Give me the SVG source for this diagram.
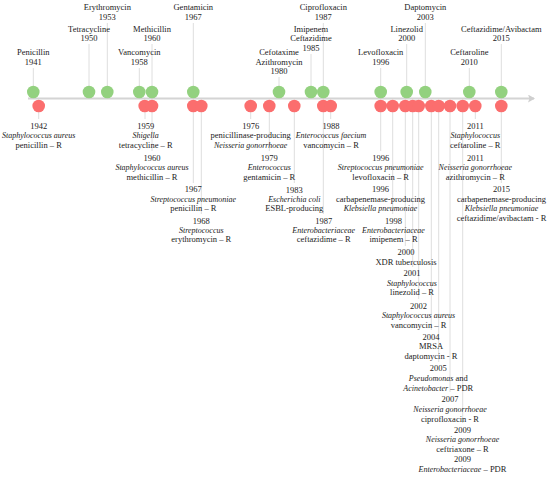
<svg xmlns="http://www.w3.org/2000/svg" width="550" height="477" viewBox="0 0 550 477">
<style>
.t{font-family:"Liberation Serif","Times New Roman",serif;font-size:8.5px;fill:#222;text-anchor:middle}
.i{font-style:italic;font-size:8px}
.ld{stroke:#dedede;stroke-width:1;fill:none}
.g{fill:#93d17f}
.r{fill:#fb6e6e}
</style>
<defs>
<marker id="ah" markerWidth="8" markerHeight="8" refX="6" refY="4" orient="auto" markerUnits="userSpaceOnUse">
<path d="M0,0 L7,4 L0,8 L1.5,4 Z" fill="#cfcfcf"/>
</marker>
</defs>
<rect width="550" height="477" fill="#fff"/>
<g id="connectors">
<line class="ld" x1="33.3" y1="68" x2="33.3" y2="86"/>
<line class="ld" x1="89" y1="44" x2="89" y2="86"/>
<line class="ld" x1="107.3" y1="23" x2="107.3" y2="86"/>
<line class="ld" x1="139.3" y1="68" x2="139.3" y2="86"/>
<line class="ld" x1="152" y1="44" x2="152" y2="86"/>
<line class="ld" x1="193.3" y1="23" x2="193.3" y2="86"/>
<line class="ld" x1="279" y1="77" x2="279" y2="86"/>
<line class="ld" x1="311" y1="54" x2="311" y2="86"/>
<line class="ld" x1="323.3" y1="23" x2="323.3" y2="86"/>
<line class="ld" x1="380.7" y1="68" x2="380.7" y2="86"/>
<line class="ld" x1="406.7" y1="44" x2="406.7" y2="86"/>
<line class="ld" x1="425.3" y1="23" x2="425.3" y2="86"/>
<line class="ld" x1="469.3" y1="68" x2="469.3" y2="86"/>
<line class="ld" x1="501.3" y1="44" x2="501.3" y2="86"/>
<line class="ld" x1="38.7" y1="112" x2="38.7" y2="119"/>
<line class="ld" x1="145" y1="112" x2="145" y2="119"/>
<line class="ld" x1="152" y1="112" x2="152" y2="151"/>
<line class="ld" x1="193.3" y1="112" x2="193.3" y2="183"/>
<line class="ld" x1="201.3" y1="112" x2="201.3" y2="214"/>
<line class="ld" x1="250.7" y1="112" x2="250.7" y2="119"/>
<line class="ld" x1="269.3" y1="112" x2="269.3" y2="151"/>
<line class="ld" x1="294.3" y1="112" x2="294.3" y2="183"/>
<line class="ld" x1="323.3" y1="112" x2="323.3" y2="214"/>
<line class="ld" x1="330.7" y1="112" x2="330.7" y2="119"/>
<line class="ld" x1="380.7" y1="112" x2="380.7" y2="151"/>
<line class="ld" x1="392.7" y1="112" x2="392.7" y2="214"/>
<line class="ld" x1="405.3" y1="112" x2="405.3" y2="246"/>
<line class="ld" x1="412.7" y1="112" x2="412.7" y2="267"/>
<line class="ld" x1="418.7" y1="112" x2="418.7" y2="299"/>
<line class="ld" x1="431.3" y1="112" x2="431.3" y2="330"/>
<line class="ld" x1="438.7" y1="112" x2="438.7" y2="362"/>
<line class="ld" x1="450" y1="112" x2="450" y2="392"/>
<line class="ld" x1="462.7" y1="112" x2="462.7" y2="423"/>
<line class="ld" x1="475.3" y1="112" x2="475.3" y2="119"/>
<line class="ld" x1="501.3" y1="112" x2="501.3" y2="183"/>
<line id="axis" x1="28" y1="98.5" x2="534" y2="98.5" stroke="#d4d4d4" stroke-width="2" marker-end="url(#ah)"/>
</g>
<g id="antibiotics">
<g id="n1941"><circle class="g" cx="33.3" cy="92" r="6.3"/><text class="t" y="55.3"><tspan x="33.3">Penicillin</tspan><tspan x="33.3" dy="9.4">1941</tspan></text></g>
<g id="n1950"><circle class="g" cx="89" cy="92" r="6.3"/><text class="t" y="32"><tspan x="89">Tetracycline</tspan><tspan x="89" dy="9.4">1950</tspan></text></g>
<g id="n1953"><circle class="g" cx="107.3" cy="92" r="6.3"/><text class="t" y="10.3"><tspan x="107.3">Erythromycin</tspan><tspan x="107.3" dy="9.4">1953</tspan></text></g>
<g id="n1958"><circle class="g" cx="139.3" cy="92" r="6.3"/><text class="t" y="55.3"><tspan x="139.3">Vancomycin</tspan><tspan x="139.3" dy="9.4">1958</tspan></text></g>
<g id="n1960"><circle class="g" cx="152" cy="92" r="6.3"/><text class="t" y="32"><tspan x="152">Methicillin</tspan><tspan x="152" dy="9.4">1960</tspan></text></g>
<g id="n1967"><circle class="g" cx="193.3" cy="92" r="6.3"/><text class="t" y="10.3"><tspan x="193.3">Gentamicin</tspan><tspan x="193.3" dy="9.4">1967</tspan></text></g>
<g id="n1980"><circle class="g" cx="279" cy="92" r="6.3"/><text class="t" y="55.3"><tspan x="279">Cefotaxime</tspan><tspan x="279" dy="9.4">Azithromycin</tspan><tspan x="279" dy="9.4">1980</tspan></text></g>
<g id="n1985"><circle class="g" cx="311" cy="92" r="6.3"/><text class="t" y="32"><tspan x="311">Imipenem</tspan><tspan x="311" dy="9.4">Ceftazidime</tspan><tspan x="311" dy="9.4">1985</tspan></text></g>
<g id="n1987"><circle class="g" cx="323.3" cy="92" r="6.3"/><text class="t" y="10.3"><tspan x="323.3">Ciprofloxacin</tspan><tspan x="323.3" dy="9.4">1987</tspan></text></g>
<g id="n1996"><circle class="g" cx="380.7" cy="92" r="6.3"/><text class="t" y="55.3"><tspan x="380.7">Levofloxacin</tspan><tspan x="380.7" dy="9.4">1996</tspan></text></g>
<g id="n2000"><circle class="g" cx="406.7" cy="92" r="6.3"/><text class="t" y="32"><tspan x="406.7">Linezolid</tspan><tspan x="406.7" dy="9.4">2000</tspan></text></g>
<g id="n2003"><circle class="g" cx="425.3" cy="92" r="6.3"/><text class="t" y="10.3"><tspan x="425.3">Daptomycin</tspan><tspan x="425.3" dy="9.4">2003</tspan></text></g>
<g id="n2010"><circle class="g" cx="469.3" cy="92" r="6.3"/><text class="t" y="55.3"><tspan x="469.3">Ceftaroline</tspan><tspan x="469.3" dy="9.4">2010</tspan></text></g>
<g id="n2015"><circle class="g" cx="501.3" cy="92" r="6.3"/><text class="t" y="32"><tspan x="501.3">Ceftazidime/Avibactam</tspan><tspan x="501.3" dy="9.4">2015</tspan></text></g>
</g>
<g id="resistance">
<g id="r1942"><circle class="r" cx="38.7" cy="106" r="6.3"/><text class="t" y="128.7"><tspan x="38.7">1942</tspan><tspan x="38.7" dy="9.4" class="i">Staphylococcus aureus</tspan><tspan x="38.7" dy="9.4">penicillin – R</tspan></text></g>
<g id="r1959"><circle class="r" cx="144.7" cy="106" r="6.3"/><text class="t" y="128.7"><tspan x="145.7">1959</tspan><tspan x="145.7" dy="9.4" class="i">Shigella</tspan><tspan x="145.7" dy="9.4">tetracycline – R</tspan></text></g>
<g id="r1960"><circle class="r" cx="152" cy="106" r="6.3"/><text class="t" y="160.7"><tspan x="152">1960</tspan><tspan x="152" dy="9.4" class="i">Staphylococcus aureus</tspan><tspan x="152" dy="9.4">methicillin – R</tspan></text></g>
<g id="r1967"><circle class="r" cx="193.3" cy="106" r="6.3"/><text class="t" y="192.3"><tspan x="193.3">1967</tspan><tspan x="193.3" dy="9.4" class="i">Streptococcus pneumoniae</tspan><tspan x="193.3" dy="9.4">penicillin – R</tspan></text></g>
<g id="r1968"><circle class="r" cx="201.3" cy="106" r="6.3"/><text class="t" y="223.5"><tspan x="201.3">1968</tspan><tspan x="201.3" dy="9.4" class="i">Streptococcus</tspan><tspan x="201.3" dy="9.4">erythromycin – R</tspan></text></g>
<g id="r1976"><circle class="r" cx="250.7" cy="106" r="6.3"/><text class="t" y="128.7"><tspan x="250.7">1976</tspan><tspan x="250.7" dy="9.4">penicillinase-producing</tspan><tspan x="250.7" dy="9.4" class="i">Neisseria gonorrhoeae</tspan></text></g>
<g id="r1979"><circle class="r" cx="269.3" cy="106" r="6.3"/><text class="t" y="160.7"><tspan x="269.3">1979</tspan><tspan x="269.3" dy="9.4" class="i">Enterococcus</tspan><tspan x="269.3" dy="9.4">gentamicin – R</tspan></text></g>
<g id="r1983"><circle class="r" cx="294.3" cy="106" r="6.3"/><text class="t" y="192.5"><tspan x="294.3">1983</tspan><tspan x="294.3" dy="9.4" class="i">Escherichia coli</tspan><tspan x="294.3" dy="9.4">ESBL-producing</tspan></text></g>
<g id="r1987"><circle class="r" cx="323.3" cy="106" r="6.3"/><text class="t" y="223.5"><tspan x="323.7">1987</tspan><tspan x="323.7" dy="9.4" class="i">Enterobacteriaceae</tspan><tspan x="323.7" dy="9.4">ceftazidime – R</tspan></text></g>
<g id="r1988"><circle class="r" cx="330.7" cy="106" r="6.3"/><text class="t" y="128.7"><tspan x="331">1988</tspan><tspan x="331" dy="9.4" class="i">Enterococcus faecium</tspan><tspan x="331" dy="9.4">vancomycin – R</tspan></text></g>
<g id="r1996"><circle class="r" cx="380.7" cy="106" r="6.3"/><text class="t" y="160.7"><tspan x="380.7">1996</tspan><tspan x="380.7" dy="9.4" class="i">Streptococcus pneumoniae</tspan><tspan x="380.7" dy="9.4">levofloxacin – R</tspan></text><text class="t" y="192.3"><tspan x="380.5">1996</tspan><tspan x="380.5" dy="9.4">carbapenemase-producing</tspan><tspan x="380.5" dy="9.4" class="i">Klebsiella pneumoniae</tspan></text></g>
<g id="r1998"><circle class="r" cx="392.7" cy="106" r="6.3"/><text class="t" y="223.5"><tspan x="393.5">1998</tspan><tspan x="393.5" dy="9.4" class="i">Enterobacteriaceae</tspan><tspan x="393.5" dy="9.4">imipenem – R</tspan></text></g>
<g id="r2000"><circle class="r" cx="405.3" cy="106" r="6.3"/><text class="t" y="255.3"><tspan x="406">2000</tspan><tspan x="406" dy="9.4">XDR tuberculosis</tspan></text></g>
<g id="r2001"><circle class="r" cx="412.7" cy="106" r="6.3"/><text class="t" y="276.3"><tspan x="412">2001</tspan><tspan x="412" dy="9.4" class="i">Staphylococcus</tspan><tspan x="412" dy="9.4">linezolid – R</tspan></text></g>
<g id="r2002"><circle class="r" cx="418.7" cy="106" r="6.3"/><text class="t" y="308.7"><tspan x="418.5">2002</tspan><tspan x="418.5" dy="9.4" class="i">Staphylococcus aureus</tspan><tspan x="418.5" dy="9.4">vancomycin – R</tspan></text></g>
<g id="r2004"><circle class="r" cx="431.3" cy="106" r="6.3"/><text class="t" y="339.7"><tspan x="431">2004</tspan><tspan x="431" dy="9.4">MRSA</tspan><tspan x="431" dy="9.6">daptomycin - R</tspan></text></g>
<g id="r2005"><circle class="r" cx="438.7" cy="106" r="6.3"/><text class="t" y="371.3"><tspan x="438.3">2005</tspan><tspan x="438.3" dy="9.4"><tspan class="i">Pseudomonas</tspan> and</tspan><tspan x="438.3" dy="9.8"><tspan class="i">Acinetobacter</tspan> – PDR</tspan></text></g>
<g id="r2007"><circle class="r" cx="450" cy="106" r="6.3"/><text class="t" y="402"><tspan x="450">2007</tspan><tspan x="450" dy="9.6" class="i">Neisseria gonorrhoeae</tspan><tspan x="450" dy="9.9">ciprofloxacin - R</tspan></text></g>
<g id="r2009"><circle class="r" cx="462.7" cy="106" r="6.3"/><text class="t" y="433"><tspan x="462.5">2009</tspan><tspan x="462.5" dy="9.4" class="i">Neisseria gonorrhoeae</tspan><tspan x="462.5" dy="9.6">ceftriaxone – R</tspan></text><text class="t" y="462"><tspan x="462.5">2009</tspan><tspan x="462.5" dy="9.6"><tspan class="i">Enterobacteriaceae</tspan> – PDR</tspan></text></g>
<g id="r2011"><circle class="r" cx="475.3" cy="106" r="6.3"/><text class="t" y="128.7"><tspan x="475.3">2011</tspan><tspan x="475.3" dy="9.4" class="i">Staphylococcus</tspan><tspan x="475.3" dy="9.4">ceftaroline – R</tspan></text><text class="t" y="160.7"><tspan x="475.3">2011</tspan><tspan x="475.3" dy="9.4" class="i">Neisseria gonorrhoeae</tspan><tspan x="475.3" dy="9.4">azithromycin – R</tspan></text></g>
<g id="r2015"><circle class="r" cx="501.3" cy="106" r="6.3"/><text class="t" y="192.3"><tspan x="501.5">2015</tspan><tspan x="501.5" dy="9.4">carbapenemase-producing</tspan><tspan x="501.5" dy="9.4" class="i">Klebsiella pneumoniae</tspan><tspan x="501.5" dy="9.4">ceftazidime/avibactam - R</tspan></text></g>
</g>
</svg>
